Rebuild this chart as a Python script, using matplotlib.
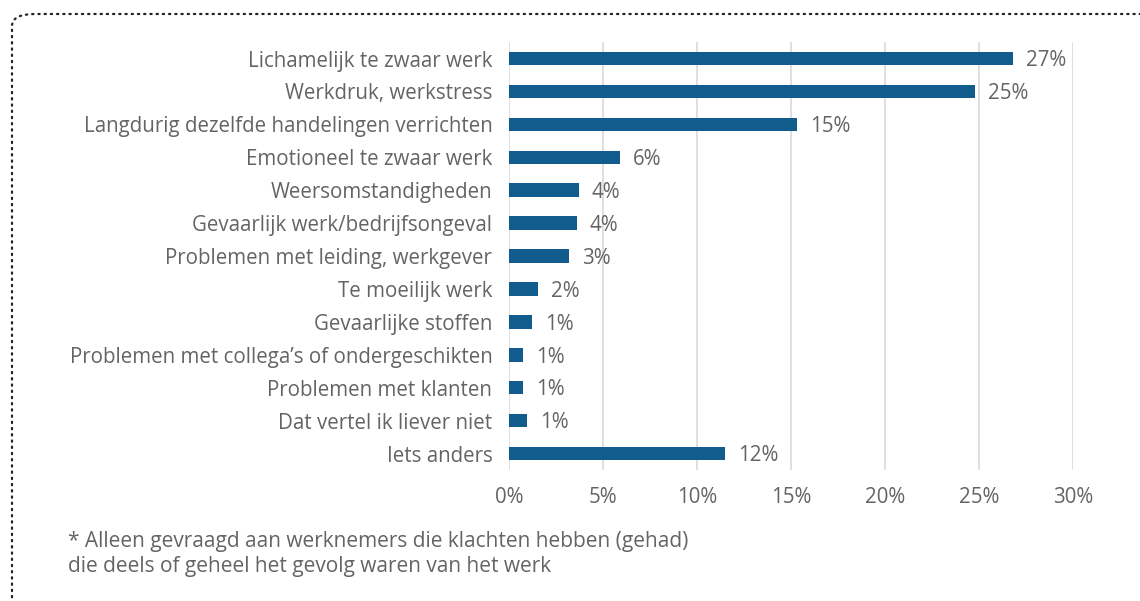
import matplotlib
matplotlib.use("Agg")
import matplotlib.pyplot as plt
from matplotlib.patches import FancyBboxPatch

categories = [
    "Lichamelijk te zwaar werk",
    "Werkdruk, werkstress",
    "Langdurig dezelfde handelingen verrichten",
    "Emotioneel te zwaar werk",
    "Weersomstandigheden",
    "Gevaarlijk werk/bedrijfsongeval",
    "Problemen met leiding, werkgever",
    "Te moeilijk werk",
    "Gevaarlijke stoffen",
    "Problemen met collega\u2019s of ondergeschikten",
    "Problemen met klanten",
    "Dat vertel ik liever niet",
    "Iets anders",
]
values = [26.8, 24.8, 15.3, 5.9, 3.7, 3.6, 3.2, 1.55, 1.2, 0.75, 0.72, 0.95, 11.5]
ticks = [0, 5, 10, 15, 20, 25, 30]
footnote = ("* Alleen gevraagd aan werknemers die klachten hebben (gehad)\n"
            "die deels of geheel het gevolg waren van het werk")

BAR = "#115b8d"
TXT = "#646464"
FS = 14.8
plt.rcParams["font.family"] = ["Open Sans", "DejaVu Sans"]

fig = plt.figure(figsize=(11.4, 6.01), dpi=100)
ax = fig.add_axes([0.4465, 0.218, 0.4945, 0.712])

ys = list(range(len(categories)))
ax.barh(ys, values, height=0.41, color=BAR, zorder=3)
for y, v in zip(ys, values):
    ax.text(v + 0.7, y + 0.07, f"{round(v)}%", va="center", ha="left",
            fontsize=FS, color=TXT)

ax.set_ylim(len(categories) - 0.5, -0.5)
ax.set_xlim(0, 30)
ax.set_xticks(ticks)
ax.set_xticklabels([f"{t}%" for t in ticks])
ax.set_yticks(ys)
ax.set_yticklabels(categories)
ax.tick_params(axis="both", length=0, labelsize=FS, labelcolor=TXT)
ax.tick_params(axis="x", pad=12)
ax.tick_params(axis="y", pad=12)
ax.grid(axis="x", color="#d9d9d9", lw=1.2, zorder=0)
for s in ax.spines.values():
    s.set_visible(False)

fig.text(68 / 1140, 1 - 531 / 601, footnote, ha="left", va="top",
         fontsize=15, color=TXT, linespacing=1.25)

# dotted frame with rounded corner, open to the right and bottom
frame = FancyBboxPatch((12 / 1140, -0.2), 1.3, 1 - 14 / 601 + 0.2,
                       boxstyle="round,pad=0,rounding_size=0.02",
                       transform=fig.transFigure, fill=False,
                       ec="#222222", lw=1.6, ls=(0, (0.6, 2.2)),
                       capstyle="round", clip_on=False)
fig.patches.append(frame)

fig.savefig("out.png", dpi=100)
